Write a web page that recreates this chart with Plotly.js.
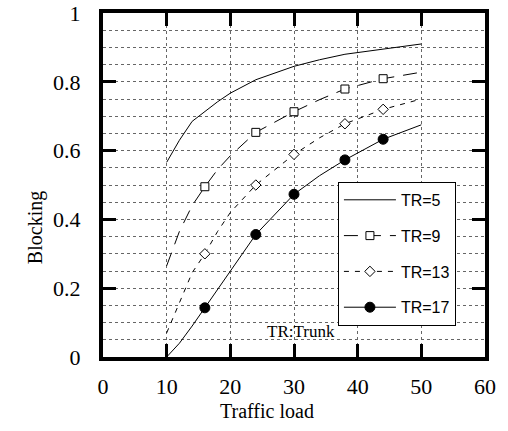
<!DOCTYPE html>
<html><head><meta charset="utf-8">
<script src="https://cdn.plot.ly/plotly-3.0.1.min.js"></script>
<style>html,body{margin:0;padding:0;background:#fff}#chart{width:508px;height:431px}</style>
</head><body><div id="chart"></div>
<script>
const trafficLoad = [10, 12, 14, 16, 18, 20, 24, 30, 34, 38, 44, 50];
const blockingTR5  = [0.566, 0.630, 0.685, 0.713, 0.742, 0.767, 0.806, 0.845, 0.864, 0.880, 0.896, 0.910];
const blockingTR9  = [0.265, 0.365, 0.440, 0.495, 0.545, 0.585, 0.653, 0.713, 0.748, 0.779, 0.809, 0.828];
const blockingTR13 = [0.070, 0.155, 0.245, 0.300, 0.365, 0.420, 0.500, 0.589, 0.637, 0.678, 0.720, 0.750];
const blockingTR17 = [0.000, 0.040, 0.090, 0.143, 0.197, 0.250, 0.356, 0.473, 0.527, 0.573, 0.633, 0.675];
const markerLoads = [16, 24, 30, 38, 44];
const seriesNames = ['TR=5', 'TR=9', 'TR=13', 'TR=17'];
const xTickVals = [0, 10, 20, 30, 40, 50, 60];
const yTickVals = [0, 0.2, 0.4, 0.6, 0.8, 1];
const yTickText = ['0', '0.2', '0.4', '0.6', '0.8', '1'];
const noteText = 'TR:Trunk';
const xTitle = 'Traffic load';
const yTitle = 'Blocking';

function markerPts(ys) {
  const mx = [], my = [];
  markerLoads.forEach(function (l) {
    const i = trafficLoad.indexOf(l);
    mx.push(l, l); my.push(ys[i], null);
  });
  return {x: mx, y: my};
}

const styles = [
  {dash: 'solid', symbol: null},
  {dash: '14px,9px', symbol: 'square', size: 8, fill: '#fff'},
  {dash: '5px,6px', symbol: 'diamond', size: 8, fill: '#fff'},
  {dash: 'solid', symbol: 'circle', size: 10, fill: '#000'}
];
const allY = [blockingTR5, blockingTR9, blockingTR13, blockingTR17];
const traces = [];
allY.forEach(function (ys, k) {
  const st = styles[k];
  if (!st.symbol) {
    traces.push({x: trafficLoad, y: ys, mode: 'lines', name: seriesNames[k], legendgroup: 'g' + k,
      line: {color: '#000', width: 1, dash: st.dash}});
  } else {
    traces.push({x: trafficLoad, y: ys, mode: 'lines', name: seriesNames[k], legendgroup: 'g' + k, showlegend: false,
      line: {color: '#000', width: 1, dash: st.dash}, hoverinfo: 'skip'});
    const mp = markerPts(ys);
    traces.push({x: mp.x, y: mp.y, mode: 'lines+markers', name: seriesNames[k], legendgroup: 'g' + k,
      connectgaps: false,
      line: {color: '#000', width: 1, dash: st.dash},
      marker: {symbol: st.symbol, size: st.size, color: st.fill, line: {color: '#000', width: 1}}});
  }
});

const gridCol = '#666';
const serif = 'Liberation Serif, Times New Roman, serif';
const layout = {
  width: 508, height: 431,
  margin: {l: 103, r: 23, t: 13, b: 74},
  paper_bgcolor: '#fff', plot_bgcolor: '#fff',
  showlegend: true,
  xaxis: {
    range: [0, 60], tickvals: xTickVals, ticktext: xTickVals.map(String),
    showline: true, linewidth: 4, linecolor: '#000', mirror: 'ticks',
    ticks: 'inside', ticklen: 13, tickwidth: 3, tickcolor: '#000',
    showgrid: true, gridcolor: gridCol, griddash: 'dot', gridwidth: 1, zeroline: false,
    tickfont: {family: serif, size: 22, color: '#000'},
    ticklabelstandoff: 7
  },
  yaxis: {
    range: [0, 1], tickvals: yTickVals, ticktext: yTickText,
    showline: true, linewidth: 4, linecolor: '#000', mirror: 'ticks',
    ticks: 'inside', ticklen: 13, tickwidth: 3, tickcolor: '#000',
    showgrid: true, gridcolor: gridCol, griddash: 'dot', gridwidth: 1, zeroline: false,
    minor: {dtick: 0.05, showgrid: true, gridcolor: gridCol, griddash: 'dot', gridwidth: 1, ticks: ''},
    tickfont: {family: serif, size: 22, color: '#000'},
    ticklabelstandoff: 14
  },
  legend: {
    x: 0.615, y: 0.509, xanchor: 'left', yanchor: 'top',
    bgcolor: '#fff', bordercolor: '#000', borderwidth: 1,
    font: {family: 'Liberation Sans, Arial, sans-serif', size: 16, color: '#000'},
    traceorder: 'grouped', tracegroupgap: 12, itemwidth: 52, entrywidth: 70
  },
  annotations: [
    {x: 31.1, y: 0.073, xref: 'x', yref: 'y', text: noteText, showarrow: false,
     font: {family: serif, size: 17, color: '#000'}},
    {x: 0.43, y: -0.195, xref: 'paper', yref: 'paper', text: xTitle, showarrow: false,
     font: {family: serif, size: 20, color: '#000'}},
    {x: -0.213, y: 0.375, xref: 'paper', yref: 'paper', text: yTitle, showarrow: false, textangle: -90,
     font: {family: serif, size: 20, color: '#000'}}
  ]
};
Plotly.newPlot('chart', traces, layout, {displayModeBar: false, staticPlot: true});
</script></body></html>
